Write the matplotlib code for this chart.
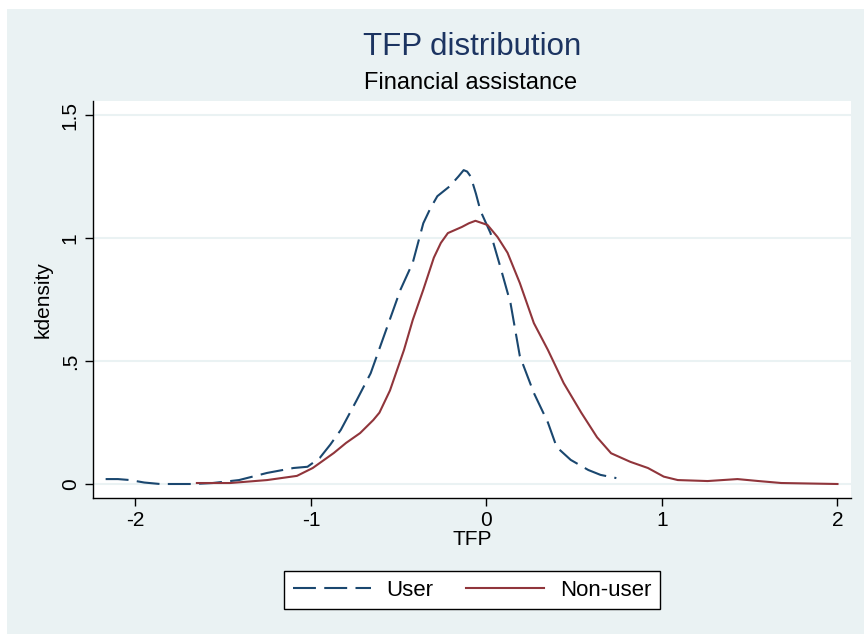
import matplotlib
matplotlib.use("Agg")
import matplotlib.pyplot as plt
from matplotlib.patches import Rectangle
from matplotlib.lines import Line2D

plt.rcParams["font.family"] = ["Liberation Sans", "DejaVu Sans"]
plt.rcParams["axes.unicode_minus"] = False

# kernel density curves
user_x = [-2.17, -2.10, -2.03, -1.95, -1.86, -1.67, -1.56, -1.41, -1.25, -1.10,
          -1.02, -0.95, -0.89, -0.83, -0.74, -0.66, -0.61, -0.55, -0.49, -0.42,
          -0.36, -0.32, -0.28, -0.21, -0.16, -0.13, -0.11, -0.09, -0.06, -0.034,
          0.023, 0.08, 0.137, 0.19, 0.27, 0.35, 0.40, 0.48, 0.58, 0.65, 0.74]
user_y = [0.02, 0.02, 0.016, 0.006, 0.0, 0.0, 0.004, 0.016, 0.045, 0.065,
          0.07, 0.106, 0.16, 0.22, 0.34, 0.45, 0.55, 0.67, 0.79, 0.90,
          1.06, 1.12, 1.17, 1.21, 1.25, 1.276, 1.27, 1.25, 1.18, 1.11,
          1.02, 0.88, 0.735, 0.52, 0.37, 0.25, 0.15, 0.098, 0.057, 0.037, 0.024]

nonuser_x = [-1.65, -1.46, -1.25, -1.08, -0.99, -0.87, -0.80, -0.72, -0.645, -0.61,
             -0.55, -0.47, -0.42, -0.36, -0.30, -0.26, -0.22, -0.14, -0.10, -0.063,
             0.006, 0.063, 0.12, 0.19, 0.27, 0.35, 0.44, 0.54, 0.63, 0.71,
             0.82, 0.92, 1.01, 1.09, 1.26, 1.43, 1.55, 1.68, 2.0]
nonuser_y = [0.004, 0.004, 0.016, 0.033, 0.065, 0.126, 0.167, 0.207, 0.26, 0.29,
             0.38, 0.545, 0.667, 0.79, 0.92, 0.98, 1.02, 1.045, 1.06, 1.07,
             1.053, 1.004, 0.94, 0.817, 0.654, 0.545, 0.41, 0.29, 0.19, 0.125,
             0.09, 0.065, 0.03, 0.016, 0.012, 0.02, 0.012, 0.004, 0.0]

x_ticks = [-2, -1, 0, 1, 2]
y_ticks = [0, 0.5, 1, 1.5]
y_ticklabels = ["0", ".5", "1", "1.5"]

BG = "#eaf2f3"
BLUE = "#1a476f"
RED = "#90353b"

fig = plt.figure(figsize=(8.64, 6.34), dpi=100)
fig.patch.set_facecolor("white")
fig.patches.append(Rectangle((7 / 864, -0.1), 1.2, 1.1 - 9 / 634, transform=fig.transFigure,
                             facecolor=BG, edgecolor="none", zorder=-10))

ax = fig.add_axes([93 / 864, 1 - 497.7 / 634, (851 - 93) / 864, (497.7 - 101) / 634])
ax.set_facecolor("white")

ax.plot(user_x, user_y, color=BLUE, lw=1.5, dashes=(11, 4), label="User")
ax.plot(nonuser_x, nonuser_y, color=RED, lw=1.5, label="Non-user")

ax.set_xlim(-2.242, 2.077)
ax.set_ylim(-0.0557, 1.557)
ax.set_xticks(x_ticks)
ax.set_yticks(y_ticks)
ax.set_yticklabels(y_ticklabels, rotation=90, va="center")
ax.tick_params(direction="out", length=6, width=1, labelsize=15, color="black")
ax.grid(axis="y", color=BG, lw=1.5)
ax.set_axisbelow(True)
for s in ["top", "right"]:
    ax.spines[s].set_visible(False)
for s in ["left", "bottom"]:
    ax.spines[s].set_color("black")
    ax.spines[s].set_linewidth(1)

ax.set_xlabel("TFP", fontsize=15, labelpad=0)
ax.set_ylabel("kdensity", fontsize=15, labelpad=6)

fig.text(472 / 864, 1 - 47 / 634, "TFP distribution", ha="center", va="center",
         fontsize=22.5, color="#1c3461")
fig.text(471 / 864, 1 - 83 / 634, "Financial assistance", ha="center", va="center",
         fontsize=17, color="black")

leg = fig.legend(handles=[Line2D([], [], color=BLUE, lw=1.5, dashes=(11, 4)),
                          Line2D([], [], color=RED, lw=1.5)],
                 labels=["User", "Non-user"], ncol=2, loc="center",
                 bbox_to_anchor=(472 / 864, 1 - 590 / 634), fontsize=16,
                 handlelength=3.5, columnspacing=1.5, handletextpad=0.7,
                 fancybox=False, framealpha=1, borderpad=0.4)
leg.get_frame().set_edgecolor("black")
leg.get_frame().set_linewidth(1)

fig.savefig("out.png", dpi=100, facecolor=fig.get_facecolor())
